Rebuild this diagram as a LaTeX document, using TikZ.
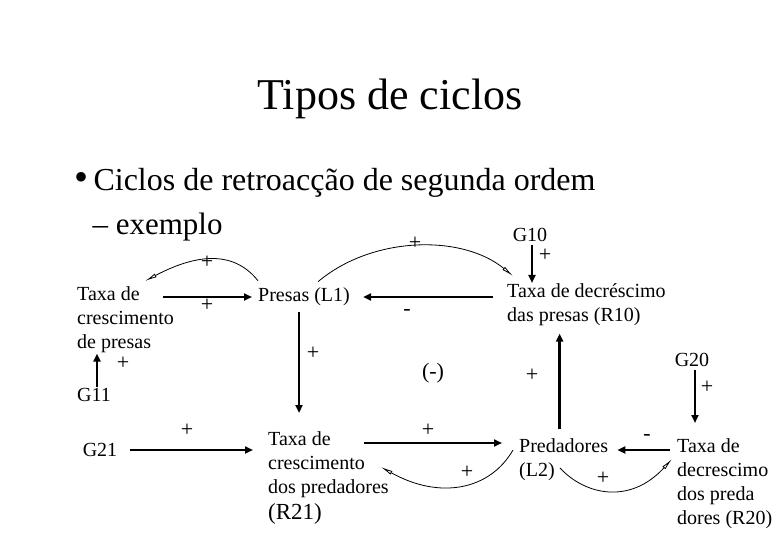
\documentclass[tikz,border=0pt]{standalone}
\usepackage{fontspec}
\setmainfont{Liberation Serif}
\usetikzlibrary{arrows.meta,calc}
\tikzset{
  txt/.style={inner sep=1pt, align=left, font=\fontsize{20}{24}\selectfont},
  gvar/.style={inner sep=1pt, font=\fontsize{20}{24}\selectfont},
  sign/.style={inner sep=0pt, font=\fontsize{22}{24}\selectfont},
  arrow/.style={-{Triangle[length=8pt, width=7pt]}, line width=2.4pt},
  fbcurve/.style={-{Latex[open, length=12pt, width=4pt]}, line width=0.8pt}
}

\begin{document}
\begin{tikzpicture}[x=1pt, y=-1pt]
  \useasboundingbox (0,0) rectangle (780,540);
  % headings
  \node[font=\fontsize{44}{50}\selectfont, anchor=base] (title) at (390,110) {Tipos de ciclos};
  \node[font=\fontsize{32}{36}\selectfont, anchor=base west] (bullet) at (71,191) {{\fontsize{40}{40}\selectfont\textbullet}\hspace{5pt}Ciclos de retroacção de segunda ordem};
  \node[font=\fontsize{31}{36}\selectfont, anchor=base west] (sub) at (89,235) {– exemplo};
  % variables
  \node[txt, anchor=north west] (tcp) at (76,285) {Taxa de\\crescimento\\de presas};
  \node[txt, anchor=west] (presas) at (257,297) {Presas (L1)};
  \node[gvar] (g11) at (94,395) {G11};
  \node[gvar] (g21) at (100,450) {G21};
  \node[gvar] (g10) at (530,235) {G10};
  \node[gvar] (g20) at (692,360) {G20};
  \node[txt, anchor=north west] (tdp) at (506,282) {Taxa de decréscimo\\das presas (R10)};
  \node[txt, anchor=north west] (tcpred) at (267,430) {Taxa de\\crescimento\\dos predadores\\[2pt]{\fontsize{23}{26}\selectfont (R21)}};
  \node[txt, anchor=north west] (pred) at (518,437) {Predadores\\(L2)};
  \node[txt, anchor=north west] (tdpred) at (676,437) {Taxa de\\decrescimo\\dos preda\\dores (R20)};
  % links
  \draw[arrow, shorten <=-12pt, shorten >=5pt] (tcp.east |- presas.west) -- (presas.west);
  \draw[fbcurve] ($(presas.north west)+(1,-6)$) .. controls (235,252) and (200,252) .. ($(tcp.north east)+(-30,-4)$);
  \draw[arrow] ($(g11.north)+(3,0)$) -- ($(g11.north |- tcp.south)+(3,0)$);
  \draw[arrow, shorten <=13pt, shorten >=12pt] (tdp.west |- presas.east) -- (presas.east);
  \draw[fbcurve] ($(presas.north)+(14,-5)$) .. controls (372,236) and (462,234) .. ($(tdp.north west)+(7,-6)$);
  \draw[arrow] ($(presas.south)+(-5,5)$) -- ($(presas.south |- tcpred.north)+(-5,-17)$);
  \draw[arrow] ($(g10.south)+(2,2)$) -- ($(g10.south |- tdp.north)+(2,1)$);
  \draw[arrow] ($(pred.north)+(-4,-8)$) -- ($(pred.north |- tdp.south)+(-4,7)$);
  \draw[arrow] ($(g20.south)+(3,2)$) -- ($(g20.south |- tdpred.north)+(3,-14)$);
  \draw[arrow, shorten <=12pt, shorten >=14pt] (g21.east) -- (g21.east -| tcpred.west);
  \draw[arrow] ($(tcpred.north east)+(-26,13)$) -- ($(pred.north west)+(-16,6)$);
  \draw[fbcurve] ($(pred.north west)+(-5,13)$) .. controls (490,490) and (440,500) .. ($(tcpred.north east)+(-9,37)$);
  \draw[arrow] ($(tdpred.north west)+(-6,13)$) -- ($(pred.north east)+(8,13)$);
  \draw[fbcurve] ($(pred.north west)+(42,31)$) .. controls (585,495) and (630,505) .. ($(tdpred.north west)+(-4,22)$);
  % polarities
  \node[sign] (s1) at (207,262) {+};
  \node[sign] (s2) at (207,305) {+};
  \node[sign] (s3) at (123,363) {+};
  \node[sign] (s4) at (415,243) {+};
  \node[sign] (s5) at (407,312) {-};
  \node[sign] (s6) at (313,353) {+};
  \node[sign] (loop) at (433,373) {(-)};
  \node[sign] (s7) at (532,375) {+};
  \node[sign] (s8) at (545,255) {+};
  \node[sign] (s9) at (707,387) {+};
  \node[sign] (s10) at (187,430) {+};
  \node[sign] (s11) at (428,430) {+};
  \node[sign] (s12) at (467,472) {+};
  \node[sign] (s13) at (647,437) {-};
  \node[sign] (s14) at (603,478) {+};
\end{tikzpicture}
\end{document}
